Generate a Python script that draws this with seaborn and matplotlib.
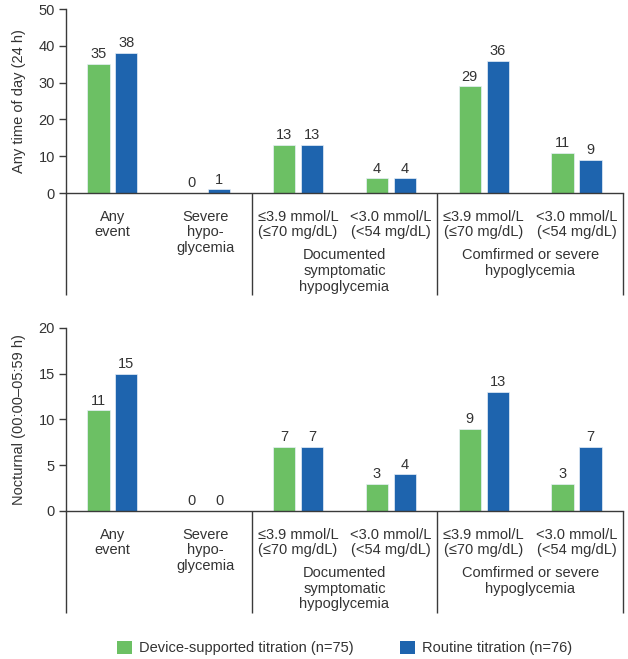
import numpy as np
import pandas as pd
import matplotlib
matplotlib.use("Agg")
import matplotlib.pyplot as plt
import seaborn as sns
from matplotlib.patches import Patch

# ---------------------------------------------------------------------------
# Data
# ---------------------------------------------------------------------------
categories = ["Any\nevent", "Severe\nhypo-\nglycemia",
              "\u22643.9 mmol/L\n(\u226470 mg/dL)", "<3.0 mmol/L\n(<54 mg/dL)",
              "\u22643.9 mmol/L\n(\u226470 mg/dL)", "<3.0 mmol/L\n(<54 mg/dL)"]
groups = ["Documented\nsymptomatic\nhypoglycemia", "Comfirmed or severe\nhypoglycemia"]
series = ["Device-supported titration (n=75)", "Routine titration (n=76)"]

day_device = [35, 0, 13, 4, 29, 11]
day_routine = [38, 1, 13, 4, 36, 9]
night_device = [11, 0, 7, 3, 9, 3]
night_routine = [15, 0, 7, 4, 13, 7]

colors = ["#6cc064", "#1e64ae"]
axis_col = "#3a3a3a"
text_col = "#333333"
FS = 10.5

sns.set_theme(style="white")
plt.rcParams["font.family"] = ["Liberation Sans", "DejaVu Sans"]
plt.rcParams["font.size"] = FS
plt.rcParams["text.color"] = text_col
plt.rcParams["axes.labelcolor"] = text_col
plt.rcParams["xtick.color"] = text_col
plt.rcParams["ytick.color"] = text_col

fig = plt.figure(figsize=(6.28, 6.59), dpi=100)
ax_top = fig.add_axes([0.105, 0.7071, 0.887, 0.2792])
ax_bot = fig.add_axes([0.105, 0.2246, 0.887, 0.2777])


def make_frame(dev, rout):
    idx = [str(i) for i in range(len(categories))]
    return pd.DataFrame({
        "cat": idx * 2,
        "value": list(dev) + list(rout),
        "series": [series[0]] * len(dev) + [series[1]] * len(rout),
    })


def draw_panel(ax, dev, rout, ymax, step, ylabel):
    df = make_frame(dev, rout)
    sns.barplot(data=df, x="cat", y="value", hue="series", palette=colors,
                saturation=1, width=0.6, gap=0.2, ax=ax, legend=False,
                edgecolor="#e8f0f8", linewidth=0.5)
    for cont in ax.containers:
        ax.bar_label(cont, padding=2, fontsize=FS, color=text_col)
    ax.set_xlim(-0.5, 5.5)
    ax.set_ylim(0, ymax)
    ax.set_yticks(np.arange(0, ymax + 1, step))
    ax.set_xticks(range(len(categories)))
    ax.set_xticklabels(categories, linespacing=1.15, fontsize=FS)
    ax.tick_params(axis="x", length=0, pad=12)
    ax.tick_params(axis="y", length=5, width=1, color=axis_col, pad=3,
                   left=True, labelsize=FS)
    ax.set_xlabel("")
    ax.set_ylabel(ylabel, labelpad=9, fontsize=FS)
    for side in ["top", "right"]:
        ax.spines[side].set_visible(False)
    for side in ["left", "bottom"]:
        ax.spines[side].set_color(axis_col)
        ax.spines[side].set_linewidth(1)
    trans = ax.get_xaxis_transform()
    depth = -0.555
    for xv in [-0.5, 1.5, 3.5, 5.5]:
        ax.plot([xv, xv], [0, depth], transform=trans, color=axis_col,
                lw=1, clip_on=False, solid_capstyle="butt")
    for gi, xc in enumerate([2.5, 4.5]):
        ax.text(xc, -0.30, groups[gi], transform=trans, ha="center", va="top",
                linespacing=1.15, fontsize=FS)


draw_panel(ax_top, day_device, day_routine, 50, 10, "Any time of day (24 h)")
draw_panel(ax_bot, night_device, night_routine, 20, 5,
           "Nocturnal (00:00\u201305:59 h)")

handles = [Patch(facecolor=c, edgecolor="none") for c in colors]
fig.legend(handles, series, loc="center", bbox_to_anchor=(0.549, 0.017),
           ncol=2, frameon=False, handlelength=1.0, handleheight=1.0,
           handletextpad=0.5, columnspacing=3.2, fontsize=FS)

fig.savefig("out.png", dpi=100)
